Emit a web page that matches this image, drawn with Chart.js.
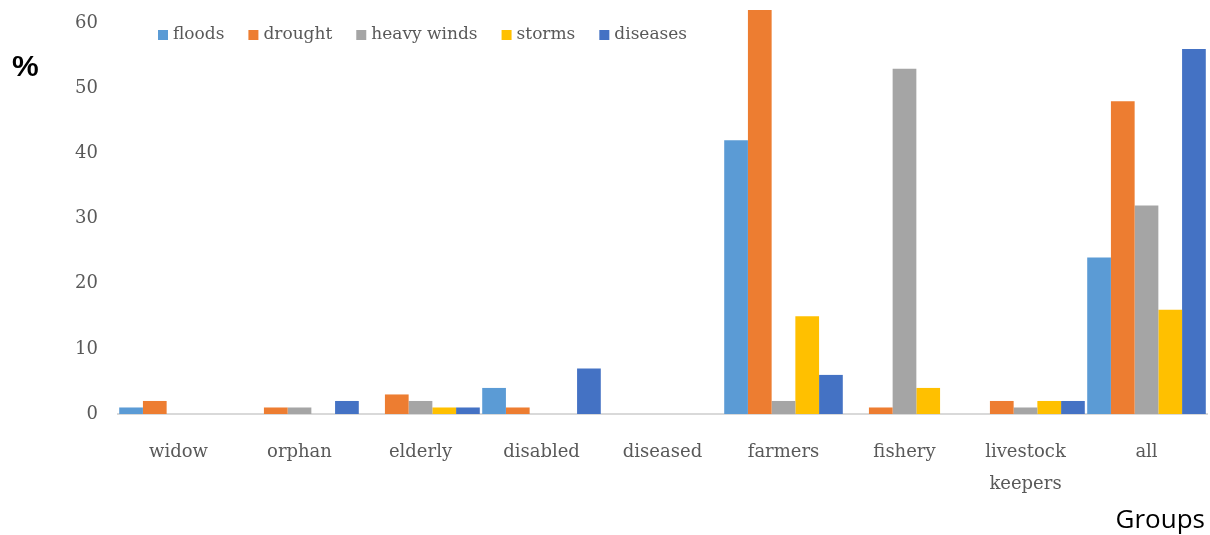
<!DOCTYPE html>
<html>
<head>
<meta charset="utf-8">
<script src="https://cdn.jsdelivr.net/npm/chart.js@4.4.1/dist/chart.umd.min.js"></script>
<style>
  html, body { margin: 0; padding: 0; background: #ffffff; }
  #wrap { position: relative; width: 1210px; height: 535px; }
</style>
</head>
<body>
<div id="wrap"><canvas id="chart" width="1210" height="535"></canvas></div>
<script>
// Groups on the x axis
const groups = ['widow', 'orphan', 'elderly', 'disabled', 'diseased', 'farmers', 'fishery', ['livestock', 'keepers'], 'all'];

// Share of each group reporting each hazard (%)
const floods     = [1, 0, 0, 4, 0, 42, 0, 0, 24];
const drought    = [2, 1, 3, 1, 0, 62, 1, 2, 48];
const heavyWinds = [0, 1, 2, 0, 0, 2, 53, 1, 32];
const storms     = [0, 0, 1, 0, 0, 15, 4, 2, 16];
const diseases   = [0, 2, 1, 7, 0, 6, 0, 2, 56];

const seriesNames = ['floods', 'drought', 'heavy winds', 'storms', 'diseases'];
const seriesColors = ['#5B9BD5', '#ED7D31', '#A5A5A5', '#FFC000', '#4472C4'];
const seriesValues = [floods, drought, heavyWinds, storms, diseases];

const yTicks = [0, 10, 20, 30, 40, 50, 60];

const serif = '"DejaVu Serif", "Liberation Serif", serif';
const labelGrey = '#595959';

// Horizontal legend laid over the top of the plot, drawn from the dataset list
const inlineLegend = {
  id: 'inlineLegend',
  afterDraw(chart) {
    const ctx = chart.ctx;
    ctx.save();
    ctx.font = '17px ' + serif;
    ctx.textBaseline = 'middle';
    ctx.textAlign = 'left';
    let x = 158;
    const cy = 35;
    chart.data.datasets.forEach((ds) => {
      ctx.fillStyle = ds.backgroundColor;
      ctx.fillRect(x, cy - 5, 10, 10);
      ctx.fillStyle = labelGrey;
      ctx.fillText(ds.label, x + 15, cy);
      x += 15 + ctx.measureText(ds.label).width + 24;
    });
    ctx.restore();
  }
};

// Free-standing axis captions: "%" at top left, "Groups" at bottom right
const captions = {
  id: 'captions',
  afterDraw(chart) {
    const ctx = chart.ctx;
    ctx.save();
    ctx.fillStyle = '#000000';
    ctx.textBaseline = 'middle';
    ctx.textAlign = 'left';
    ctx.font = 'bold 30px "Liberation Sans", Arial, sans-serif';
    ctx.fillText('%', 12, 68);
    ctx.font = '26px "Open Sans", "Noto Sans", sans-serif';
    ctx.textAlign = 'right';
    ctx.fillText('Groups', 1205, 521);
    ctx.restore();
  }
};

new Chart(document.getElementById('chart'), {
  type: 'bar',
  data: {
    labels: groups,
    datasets: seriesNames.map((name, i) => ({
      label: name,
      data: seriesValues[i],
      backgroundColor: seriesColors[i],
      borderWidth: 0,
      categoryPercentage: 0.98,
      barPercentage: 1.0
    }))
  },
  options: {
    responsive: false,
    animation: false,
    layout: { padding: { top: 10, right: 3, left: 0, bottom: 0 } },
    plugins: {
      legend: { display: false },
      tooltip: { enabled: false }
    },
    scales: {
      x: {
        grid: { display: false, drawTicks: false },
        border: { display: true, color: '#d9d9d9', width: 2 },
        ticks: {
          color: labelGrey,
          font: { family: serif, size: 18, lineHeight: 1.8 },
          padding: 22,
          maxRotation: 0,
          autoSkip: false
        },
        afterFit(scale) { scale.height = 121; }
      },
      y: {
        min: 0,
        max: 62,
        grid: { display: false, drawTicks: false },
        border: { display: false },
        ticks: {
          stepSize: 10,
          includeBounds: false,
          color: labelGrey,
          font: { family: serif, size: 18 },
          padding: 20,
          callback: (v) => yTicks.includes(v) ? String(v) : ''
        },
        afterFit(scale) {
          scale.width = 118;
          scale.paddingTop = 0;
          scale.paddingBottom = 0;
        }
      }
    }
  },
  plugins: [inlineLegend, captions]
});
</script>
</body>
</html>
